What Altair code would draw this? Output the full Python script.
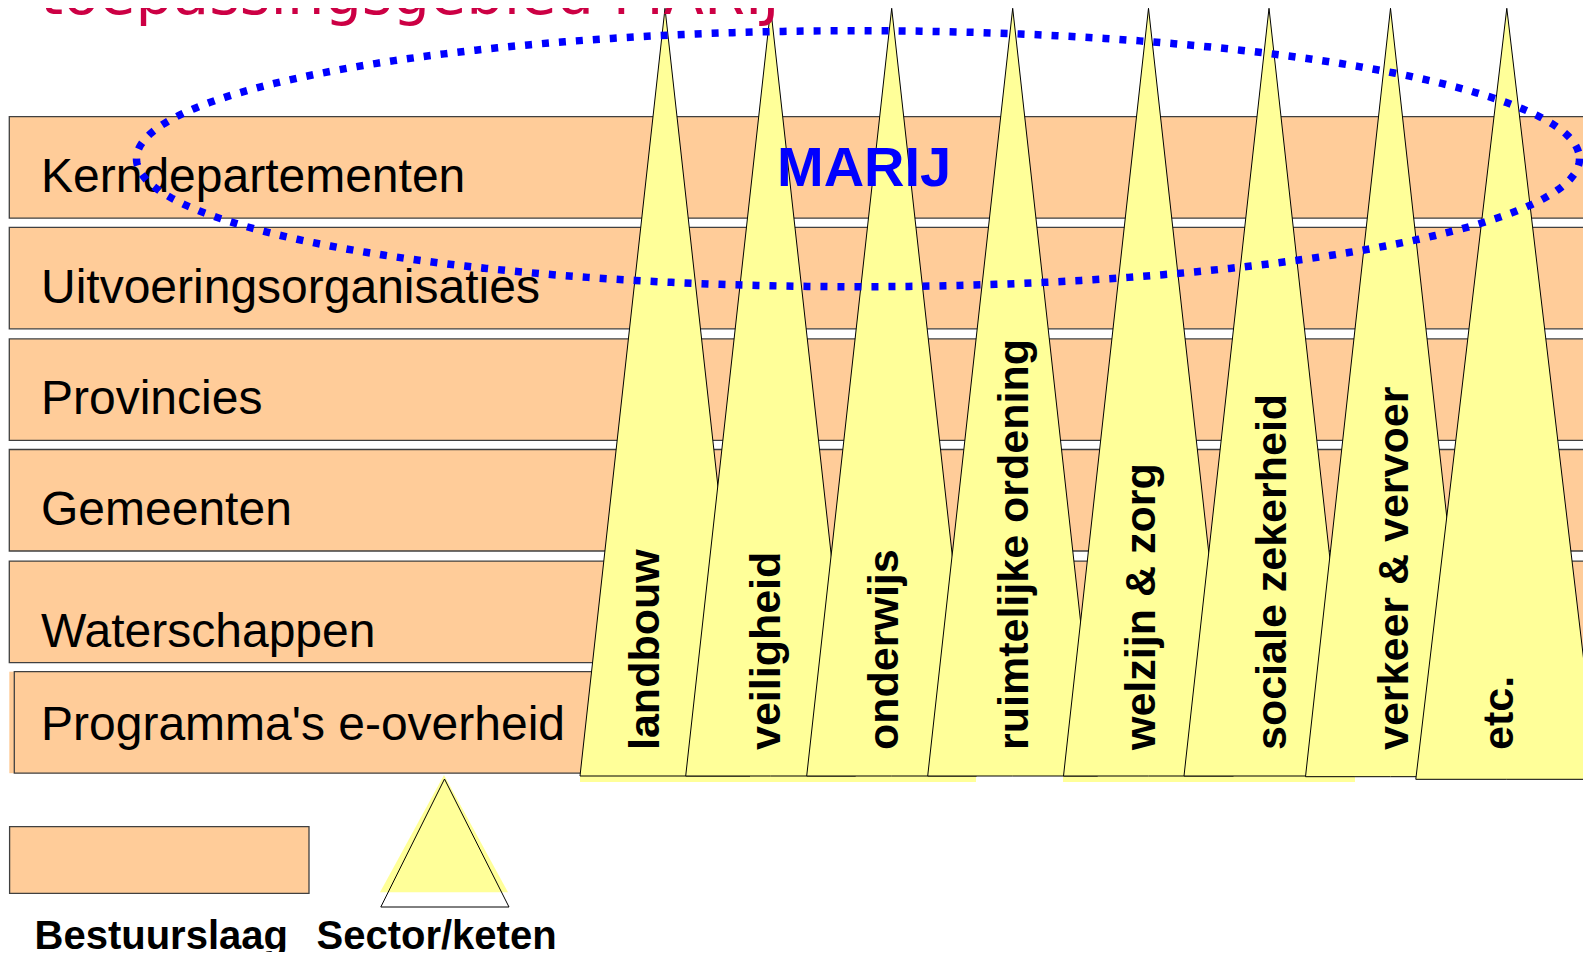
import altair as alt
import pandas as pd
import numpy as np

# ---------------- text content ----------------
layer_names = ["Kerndepartementen", "Uitvoeringsorganisaties", "Provincies",
               "Gemeenten", "Waterschappen", "Programma's e-overheid"]
sector_names = ["landbouw", "veiligheid", "onderwijs", "ruimtelijke ordening",
                "welzijn & zorg", "sociale zekerheid", "verkeer & vervoer", "etc."]
legend_names = ["Bestuurslaag", "Sector/keten"]
title_text = ["toepassingsgebied MARIJ"]
ellipse_label = ["MARIJ"]

# ---------------- layout (page pixels) ----------------
PAGE_W = 1591
M = 8
VIEW_W, VIEW_H = 1575, 944          # keeps the page inside the window
X_MAX, Y_MAX = M + VIEW_W, M + VIEW_H

row_top = [116.7, 227.3, 338.9, 449.5, 561.1, 671.7]
row_h = 101.5
row_left = [9.3, 9.3, 9.3, 9.3, 9.3, 14.3]
row_label_dy = [26, 26, 26, 26, 16, 33]
row_label_x = 41
apex_x = [665, 770.7, 891.7, 1012.7, 1148.5, 1269, 1390.5, 1506.8]
apex_y = 8.3
base_y = [776, 776, 776, 776, 776, 776, 776.7, 779.3]
half_w = [85, 85, 85, 85, 85, 85, 85, 91]
sector_label_x = [659, 780, 898, 1028, 1155, 1286, 1408, 1513]
sector_label_y = 750
ell_cx, ell_cy, ell_rx, ell_ry = 858, 158.7, 721.5, 128

FONT = "Liberation Sans"
ORANGE = "#FFCC99"
YELLOW = "#FFFF99"
BLUE = "#0000FF"

xs = alt.Scale(domain=[M, X_MAX], nice=False, zero=False)
ys = alt.Scale(domain=[M, Y_MAX], nice=False, zero=False, reverse=True)


def X(f):
    return alt.X(f, type="quantitative", scale=xs, axis=None)


def Y(f):
    return alt.Y(f, type="quantitative", scale=ys, axis=None)


layers = []

# Programma's small orange edge (shadow)
edge = pd.DataFrame({"x": [9.3], "x2": [14.3], "y": [row_top[5]], "y2": [row_top[5] + row_h]})
layers.append(alt.Chart(edge).mark_rect(fill=ORANGE).encode(
    x=X("x"), x2="x2", y=Y("y"), y2="y2"))

# layer bars
bars = pd.DataFrame({
    "name": layer_names,
    "x": row_left,
    "x2": [PAGE_W + 40] * len(layer_names),
    "y": row_top,
    "y2": [t + row_h for t in row_top],
})
layers.append(alt.Chart(bars).mark_rect(fill=ORANGE, stroke="#404040", strokeWidth=1.3).encode(
    x=X("x"), x2="x2", y=Y("y"), y2="y2"))

# bar labels
blab = pd.DataFrame({
    "name": layer_names,
    "x": [row_label_x] * len(layer_names),
    "y": [t + row_h - d for t, d in zip(row_top, row_label_dy)],
})
layers.append(alt.Chart(blab).mark_text(align="left", baseline="alphabetic", font=FONT,
                                        fontSize=48, color="black").encode(
    x=X("x"), y=Y("y"), text="name:N"))

# yellow shadow strips under triangle bases
strips = pd.DataFrame({"x": [580, 1063], "x2": [976, 1355], "y": [776, 776], "y2": [782, 782]})
layers.append(alt.Chart(strips).mark_rect(fill=YELLOW).encode(
    x=X("x"), x2="x2", y=Y("y"), y2="y2"))

# sector triangles
for i, s in enumerate(sector_names):
    tri = pd.DataFrame({
        "x": [apex_x[i] - half_w[i], apex_x[i], apex_x[i] + half_w[i]],
        "y": [base_y[i], apex_y, base_y[i]],
        "y2": [base_y[i]] * 3,
    })
    layers.append(alt.Chart(tri).mark_area(fill=YELLOW, stroke="black", strokeWidth=1,
                                           opacity=1, fillOpacity=1).encode(
        x=X("x"), y=Y("y"), y2="y2"))

# sector labels
slab = pd.DataFrame({"name": sector_names, "x": sector_label_x,
                     "y": [sector_label_y] * len(sector_names)})
layers.append(alt.Chart(slab).mark_text(angle=270, align="left", baseline="alphabetic",
                                        font=FONT, fontSize=43, fontWeight="bold",
                                        color="black").encode(
    x=X("x"), y=Y("y"), text="name:N"))

# dotted ellipse
t = np.linspace(0, 2 * np.pi, 361)
ell = pd.DataFrame({"i": np.arange(len(t)),
                    "x": ell_cx + ell_rx * np.cos(t),
                    "y": ell_cy + ell_ry * np.sin(t)})
layers.append(alt.Chart(ell).mark_line(color=BLUE, strokeWidth=7.5, strokeDash=[7, 10],
                                       strokeCap="butt").encode(
    x=X("x"), y=Y("y"), order="i:Q"))

# MARIJ label
mlab = pd.DataFrame({"name": ellipse_label, "x": [777], "y": [186]})
layers.append(alt.Chart(mlab).mark_text(align="left", baseline="alphabetic", font=FONT,
                                        fontSize=56, fontWeight="bold", color=BLUE).encode(
    x=X("x"), y=Y("y"), text="name:N"))

# title (cut at the top)
tlab = pd.DataFrame({"name": title_text, "x": [40], "y": [14.3]})
layers.append(alt.Chart(tlab).mark_text(align="left", baseline="alphabetic", font="DejaVu Sans",
                                        fontSize=59, color="#CC0044").encode(
    x=X("x"), y=Y("y"), text="name:N"))

# legend: rectangle
lrect = pd.DataFrame({"x": [9.6], "x2": [309], "y": [826.7], "y2": [893.3]})
layers.append(alt.Chart(lrect).mark_rect(fill=ORANGE, stroke="#404040", strokeWidth=1.3).encode(
    x=X("x"), x2="x2", y=Y("y"), y2="y2"))

# legend: yellow triangle
ltri = pd.DataFrame({"x": [380, 444, 508], "y": [892.3, 775, 892.3], "y2": [892.3] * 3})
layers.append(alt.Chart(ltri).mark_area(fill=YELLOW, opacity=1).encode(
    x=X("x"), y=Y("y"), y2="y2"))

# legend: outline triangle
lout = pd.DataFrame({"i": [0, 1, 2, 3], "x": [380.8, 444.5, 509, 380.8],
                     "y": [907, 779, 907, 907]})
layers.append(alt.Chart(lout).mark_line(color="black", strokeWidth=1).encode(
    x=X("x"), y=Y("y"), order="i:Q"))

# legend texts
ltxt = pd.DataFrame({"name": legend_names, "x": [34.5, 316.5], "y": [948.5, 948.5]})
layers.append(alt.Chart(ltxt).mark_text(align="left", baseline="alphabetic", font=FONT,
                                        fontSize=40, fontWeight="bold", color="black").encode(
    x=X("x"), y=Y("y"), text="name:N"))

chart = alt.layer(*layers).properties(
    width=VIEW_W, height=VIEW_H,
    autosize=alt.AutoSizeParams(type="none"),
    padding=0,
    background="white",
).configure_view(stroke=None)

chart.save("out.html", embed_options={"renderer": "svg", "actions": False})
